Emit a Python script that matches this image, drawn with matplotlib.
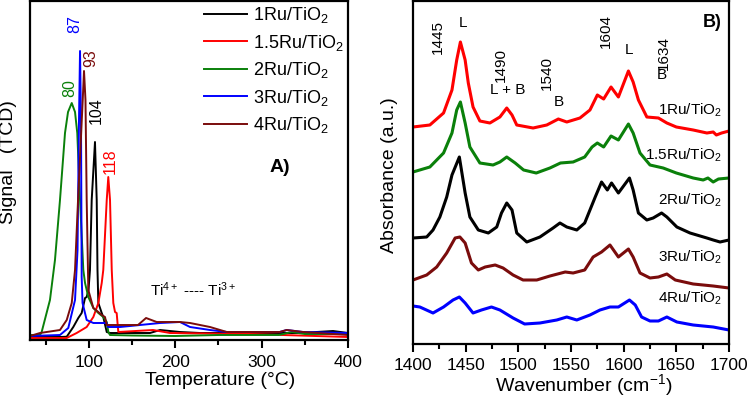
import matplotlib.pyplot as plt
from matplotlib.ticker import MultipleLocator

plt.rcParams['font.family'] = ['Liberation Sans', 'DejaVu Sans']
plt.rcParams['mathtext.fontset'] = 'custom'
plt.rcParams['mathtext.rm'] = 'Liberation Sans'
plt.rcParams['mathtext.it'] = 'Liberation Sans:italic'
plt.rcParams['mathtext.bf'] = 'Liberation Sans:bold'

# A) H2-TPR profiles (temperature in °C, TCD signal in a.u.)
tpr_1ru_t = [32, 66.7, 74.5, 82.1, 87.9, 91.8, 95.7, 97.6, 99.7, 101.4, 103.4, 107.2, 109.2, 110.1, 111.1,
             115, 116.8, 120.8, 124.6, 170.9, 182.5, 205.6, 228.8, 344.5, 382.7, 400]
tpr_1ru_s = [3, 3, 3.3, 13, 22, 27, 42, 43, 50, 70, 140, 198, 140, 70, 37,
             27, 23, 8, 7, 7, 10, 8, 7, 7, 9, 7]

tpr_15ru_t = [32, 74.5, 86, 97.6, 105.3, 111.1, 115, 116.8, 120.8, 122.6, 124.6, 126.6, 128.4, 130.4,
              132.3, 134.2, 174.4, 194, 286.6, 400]
tpr_15ru_s = [2, 2, 7, 13, 23, 37, 57, 70, 140, 163, 140, 70, 37, 28,
              27, 8, 10, 7, 6, 3]

tpr_2ru_t = [32, 43.6, 45.5, 55.1, 60.9, 66.7, 72.5, 76, 80.3, 84.1, 86.7, 89.9, 93.7, 95.7, 99.5,
             105.3, 111.1, 116.8, 120.8, 122.6, 124.6, 150, 200, 250, 300, 320, 335, 350, 400]
tpr_2ru_s = [5, 5, 8, 40, 80, 140, 207, 228, 237, 228, 207, 140, 70, 57, 43,
             32, 27, 23, 18, 8, 5, 4.5, 4, 5, 5, 5, 8, 6, 6]

tpr_3ru_t = [32, 66.7, 76.3, 84.1, 87, 88.7, 89.9, 91, 91.8, 92.8, 97.6, 105.3, 120.8, 122.3,
             136.2, 182.5, 205.6, 217.2, 240.3, 259.7, 321, 329, 348, 400]
tpr_3ru_s = [4, 5, 12, 40, 90, 220, 289, 220, 63, 37, 20, 17, 17, 13,
             13, 17, 18, 13, 10, 8, 8, 10, 8, 7]

tpr_4ru_t = [32, 43.6, 66.7, 74.5, 80.3, 84.1, 87.6, 93, 94.5, 96.2, 97.6, 99.5, 105.3, 111.1,
             115, 118.8, 120.8, 157, 166.3, 178.6, 205.6, 217.2, 240.3, 259.7, 321, 329, 348, 400]
tpr_4ru_s = [4, 7, 10, 20, 37, 70, 140, 240, 269, 240, 140, 50, 32, 28,
             25, 23, 15, 15, 22, 18, 18, 17, 13, 8, 8, 10, 8, 5]

tpr_labels = ['1Ru/TiO$_2$', '1.5Ru/TiO$_2$', '2Ru/TiO$_2$', '3Ru/TiO$_2$', '4Ru/TiO$_2$']
tpr_colors = ['black', '#ff0000', '#0a800a', '#0000ff', '#7a0c0c']
peak_text = ['104', '118', '80', '87', '93']
peak_t = [108.4, 124.6, 78.3, 84, 102.6]
peak_s = [229, 179, 252, 316, 282]

# B) pyridine FTIR spectra (wavenumber in cm-1, stacked absorbance in a.u.)
wn_1ru = [1400, 1416, 1429, 1437, 1441.5, 1445, 1449.5, 1452.5, 1457, 1463.5, 1473, 1482.5, 1489, 1494,
          1498.5, 1514, 1527, 1538, 1546, 1558.5, 1568, 1575, 1581, 1588, 1595, 1604.5, 1609, 1614,
          1622, 1633, 1641, 1650, 1666, 1679, 1685, 1688, 1693, 1700]
ab_1ru = [217, 219, 231, 254, 284, 302, 284, 261, 237, 223, 221, 227, 236, 229,
          219, 216, 219, 225, 222, 226, 234, 249, 245, 257, 247, 273, 262, 244,
          227, 226, 221, 217, 214, 211, 212, 209, 211, 213]

wn_15ru = [1400, 1416, 1429, 1437, 1441.5, 1445, 1449.5, 1454, 1463.5, 1476, 1482.5, 1489, 1497, 1505,
           1517, 1530, 1540, 1552, 1563, 1570, 1575, 1581, 1588, 1595, 1604.5, 1609, 1615.5, 1625,
           1637.5, 1650, 1666, 1675.5, 1680, 1685, 1690, 1700]
ab_15ru = [172, 177, 191, 211, 234, 242, 221, 197, 181, 179, 182, 187, 181, 174,
           171, 176, 181, 182, 187, 197, 201, 197, 208, 204, 220, 211, 191, 179,
           176, 171, 166, 164, 166, 162, 165, 166]

wn_2ru = [1400, 1413, 1419, 1425.5, 1432, 1437, 1444, 1449.5, 1454, 1462, 1471.5, 1479.5, 1484, 1489,
          1494, 1498.5, 1508, 1520.5, 1533, 1539.5, 1546, 1555.5, 1563, 1568, 1573, 1579, 1584.5,
          1588.5, 1595, 1605.5, 1609, 1614, 1622, 1628, 1636, 1641, 1650.5, 1663, 1679, 1685, 1691.5, 1700]
ab_2ru = [106, 107, 114, 127, 147, 169, 187, 151, 127, 114, 111, 117, 131, 141,
          134, 111, 102, 107, 116, 121, 117, 114, 121, 134, 147, 162, 154,
          161, 151, 166, 154, 131, 124, 126, 131, 127, 117, 111, 106, 104, 102, 104]

wn_3ru = [1400, 1413, 1422.5, 1432, 1440, 1444.5, 1449.5, 1455.5, 1462, 1468.5, 1478, 1485.5, 1495,
          1504.5, 1517.5, 1530, 1544.5, 1552, 1563, 1571, 1579, 1587, 1595, 1604.5, 1609, 1615.5,
          1625, 1633, 1641, 1649, 1666, 1685, 1700]
ab_3ru = [64, 69, 77, 91, 106, 107, 101, 81, 74, 77, 79, 76, 69,
          64, 64, 68, 72, 71, 74, 87, 92, 99, 87, 95, 87, 71,
          66, 67, 70, 64, 60, 58, 56]

wn_4ru = [1400, 1406.5, 1419, 1429, 1438, 1444, 1449.5, 1457, 1465, 1474.5, 1482.5, 1495, 1506, 1520.5,
          1536.5, 1546, 1555.5, 1568, 1577.5, 1587, 1595, 1605.5, 1611, 1617, 1625, 1633, 1641,
          1650.5, 1666, 1685, 1700]
ab_4ru = [38, 37, 31, 37, 44, 47, 41, 31, 34, 37, 34, 26, 20, 21,
          24, 27, 24, 29, 34, 37, 37, 44, 39, 27, 23, 23, 27,
          22, 19, 17, 14]

ir_colors = ['#ff0000', '#0a800a', 'black', '#7a0c0c', '#0000ff']
ir_names = ['1Ru/TiO$_2$', '1.5Ru/TiO$_2$', '2Ru/TiO$_2$', '3Ru/TiO$_2$', '4Ru/TiO$_2$']
ir_name_y = [234, 189, 144, 87, 46]

# band assignments: (text, wavenumber, height, rotation)
bands = [('1445', 1423.3, 307, 90), ('L', 1447, 321.5, 0), ('1490', 1483.4, 279, 90),
         ('L + B', 1490.2, 254, 0), ('1540', 1527.2, 271.5, 90), ('B', 1538.6, 242.3, 0),
         ('1604', 1583.2, 313, 90), ('L', 1605, 294, 0), ('1634', 1638.3, 291, 90),
         ('B', 1636.4, 269, 0)]

fig = plt.figure(figsize=(7.5, 3.97), dpi=100)

# ---- panel A
ax1 = fig.add_axes([30 / 750, 1 - 340 / 397, 318 / 750, 339 / 397])
tpr_t = [tpr_1ru_t, tpr_15ru_t, tpr_2ru_t, tpr_3ru_t, tpr_4ru_t]
tpr_s = [tpr_1ru_s, tpr_15ru_s, tpr_2ru_s, tpr_3ru_s, tpr_4ru_s]
for t, s, c, lab in zip(tpr_t, tpr_s, tpr_colors, tpr_labels):
    ax1.plot(t, s, color=c, lw=1.4, label=lab, solid_joinstyle='round')
for txt, t, s, c in zip(peak_text, peak_t, peak_s, tpr_colors):
    ax1.text(t, s, txt, rotation=90, ha='center', va='center', color=c, fontsize=11.5)
ax1.text(321, 172, 'A)', fontsize=14, fontweight='bold', ha='center', va='center')
ax1.text(171, 50, 'Ti$^{4+}$ ---- Ti$^{3+}$', fontsize=11, ha='left', va='center')
ax1.set_xlim(32, 400)
ax1.set_ylim(0, 339)
ax1.set_yticks([])
ax1.xaxis.set_major_locator(MultipleLocator(100))
ax1.xaxis.set_minor_locator(MultipleLocator(50))
ax1.set_xlabel('Temperature (°C)', fontsize=14)
ax1.xaxis.set_label_coords(0.597, -0.095)
ax1.set_ylabel('Signal   (TCD)', fontsize=14)
ax1.yaxis.set_label_coords(-0.041, 0.525)
leg = ax1.legend(loc='upper left', bbox_to_anchor=(0.513, 1.02), frameon=False, fontsize=13,
                 handlelength=2.4, handletextpad=0.3, labelspacing=0.42, borderpad=0.1)

# ---- panel B
ax2 = fig.add_axes([413 / 750, 1 - 343.5 / 397, 316 / 750, 342.5 / 397])
ir_w = [wn_1ru, wn_15ru, wn_2ru, wn_3ru, wn_4ru]
ir_a = [ab_1ru, ab_15ru, ab_2ru, ab_3ru, ab_4ru]
for w, a, c, name, ny in zip(ir_w, ir_a, ir_colors, ir_names, ir_name_y):
    ax2.plot(w, a, color=c, lw=2.2, solid_joinstyle='round')
    ax2.text(1693.4, ny, name, ha='right', va='center', fontsize=11)
for txt, w, s, rot in bands:
    ax2.text(w, s, txt, rotation=rot, ha='center', va='center', fontsize=11)
ax2.text(1684, 322, 'B)', fontsize=13, fontweight='bold', ha='center', va='center')
ax2.set_xlim(1400, 1700)
ax2.set_ylim(0.5, 343)
ax2.set_yticks([])
ax2.xaxis.set_major_locator(MultipleLocator(50))
ax2.xaxis.set_minor_locator(MultipleLocator(25))
ax2.set_xlabel('Wavenumber (cm$^{-1}$)', fontsize=14)
ax2.xaxis.set_label_coords(0.541, -0.083)
ax2.set_ylabel('Absorbance (a.u.)', fontsize=14)
ax2.yaxis.set_label_coords(-0.047, 0.492)

for ax in (ax1, ax2):
    for sp in ax.spines.values():
        sp.set_linewidth(1.6)
    ax.tick_params(axis='x', which='major', direction='out', length=5.5, width=1.5,
                   labelsize=12.5, pad=5)
    ax.tick_params(axis='x', which='minor', direction='out', length=3.5, width=1.5)

fig.savefig('out.png', dpi=100)
